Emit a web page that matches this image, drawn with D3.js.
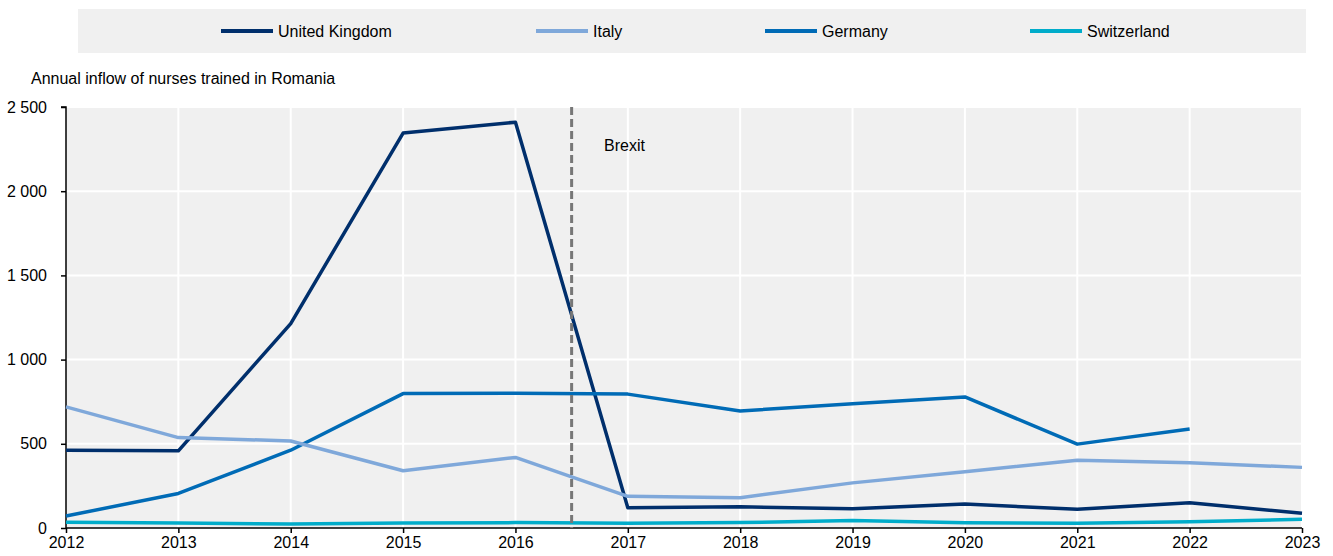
<!DOCTYPE html>
<html>
<head>
<meta charset="utf-8">
<script src="https://cdn.jsdelivr.net/npm/d3@7"></script>
<style>
  html, body { margin: 0; padding: 0; background: #fff; }
  svg { display: block; font-family: "Liberation Sans", Arial, sans-serif; }
</style>
</head>
<body>
<svg id="chart" width="1333" height="556"></svg>
<script>
const years = [2012, 2013, 2014, 2015, 2016, 2017, 2018, 2019, 2020, 2021, 2022, 2023];
const seriesNames = ["United Kingdom", "Italy", "Germany", "Switzerland"];
const seriesColors = ["#002F6C", "#7FA8DA", "#006BB6", "#00ACCA"];
const ukValues = [462, 458, 1214, 2345, 2410, 120, 126, 114, 142, 111, 150, 87];
const italyValues = [719, 537, 517, 340, 419, 188, 180, 268, 334, 403, 387, 360];
const germanyValues = [71, 205, 462, 798, 800, 795, 695, 738, 778, 498, 588, null];
const switzerlandValues = [34, 30, 24, 30, 32, 28, 32, 45, 31, 28, 37, 52];
const yTicks = [0, 500, 1000, 1500, 2000, 2500];
const yLabel = "Annual inflow of nurses trained in Romania";
const brexitYear = 2016.5;
const brexitLabel = "Brexit";

const allValues = [ukValues, italyValues, germanyValues, switzerlandValues];

(function () {
const svg = d3.select("#chart");
const pl = 66, pr = 1302, pt = 107, pb = 528;

const x = d3.scaleLinear().domain([2012, 2023]).range([pl, pr]);
const y = d3.scaleLinear().domain([0, 2500]).range([pb, pt]);

// Legend
svg.append("rect").attr("x", 78).attr("y", 9).attr("width", 1228).attr("height", 44).attr("fill", "#f0f0f0");
const legendX = [221, 536, 765, 1030];
seriesNames.forEach((name, i) => {
  const g = svg.append("g").attr("transform", `translate(${legendX[i]},31)`);
  g.append("line").attr("x1", 0).attr("x2", 52).attr("y1", 0).attr("y2", 0)
    .attr("stroke", seriesColors[i]).attr("stroke-width", 4);
  g.append("text").attr("x", 57).attr("y", 0).attr("dy", "0.35em")
    .attr("font-size", 16).attr("fill", "#000").text(name);
});

// Y label
svg.append("text").attr("x", 31).attr("y", 78).attr("dy", "0.35em")
  .attr("font-size", 16).attr("fill", "#000").text(yLabel);

// Plot background
svg.append("rect").attr("x", pl).attr("y", pt).attr("width", pr - pl).attr("height", pb - pt).attr("fill", "#f0f0f0");

// Gridlines
svg.append("g").selectAll("line").data(years.slice(1)).join("line")
  .attr("x1", d => x(d)).attr("x2", d => x(d)).attr("y1", pt).attr("y2", pb)
  .attr("stroke", "#fff").attr("stroke-width", 2);
svg.append("g").selectAll("line").data(yTicks.slice(1)).join("line")
  .attr("x1", pl).attr("x2", pr).attr("y1", d => y(d)).attr("y2", d => y(d))
  .attr("stroke", "#fff").attr("stroke-width", 2);

// Axes
const yAxis = d3.axisLeft(y).tickValues(yTicks).tickSize(5).tickPadding(14)
  .tickFormat(d => d3.format(",")(d).replace(/,/g, " "));
const gy = svg.append("g").attr("transform", `translate(${pl},0)`).call(yAxis);
gy.select(".domain").attr("stroke", "#000").attr("stroke-width", 1.5).attr("d", `M-5,${pt}H0V${pb}`);
gy.selectAll(".tick line").attr("stroke", "#000").attr("stroke-width", 1.5);
gy.selectAll(".tick text").attr("font-size", 16).attr("fill", "#000").attr("font-family", "Liberation Sans, Arial, sans-serif");

const xAxis = d3.axisBottom(x).tickValues(years).tickSize(5).tickPadding(4).tickFormat(d3.format("d"));
const gx = svg.append("g").attr("transform", `translate(0,${pb})`).call(xAxis);
gx.select(".domain").attr("stroke", "#000").attr("stroke-width", 1.5).attr("d", `M${pl},0H${pr}`);
gx.selectAll(".tick line").attr("stroke", "#000").attr("stroke-width", 1.5);
gx.selectAll(".tick text").attr("font-size", 16).attr("fill", "#000").attr("font-family", "Liberation Sans, Arial, sans-serif");

// Lines
const line = d3.line().defined(d => d[1] != null).x(d => x(d[0])).y(d => y(d[1]));
[0, 2, 1, 3].forEach(i => {
  svg.append("path")
    .datum(years.map((yr, j) => [yr, allValues[i][j]]))
    .attr("fill", "none").attr("stroke", seriesColors[i]).attr("stroke-width", 3.5)
    .attr("stroke-linejoin", "round")
    .attr("d", line);
});

// Brexit line
svg.append("line").attr("x1", x(brexitYear)).attr("x2", x(brexitYear)).attr("y1", pt).attr("y2", pb)
  .attr("stroke", "#777").attr("stroke-width", 3).attr("stroke-dasharray", "8,4");
svg.append("text").attr("x", 604).attr("y", 145).attr("dy", "0.35em")
  .attr("font-size", 16).attr("fill", "#000").text(brexitLabel);
})();
</script>
</body>
</html>
